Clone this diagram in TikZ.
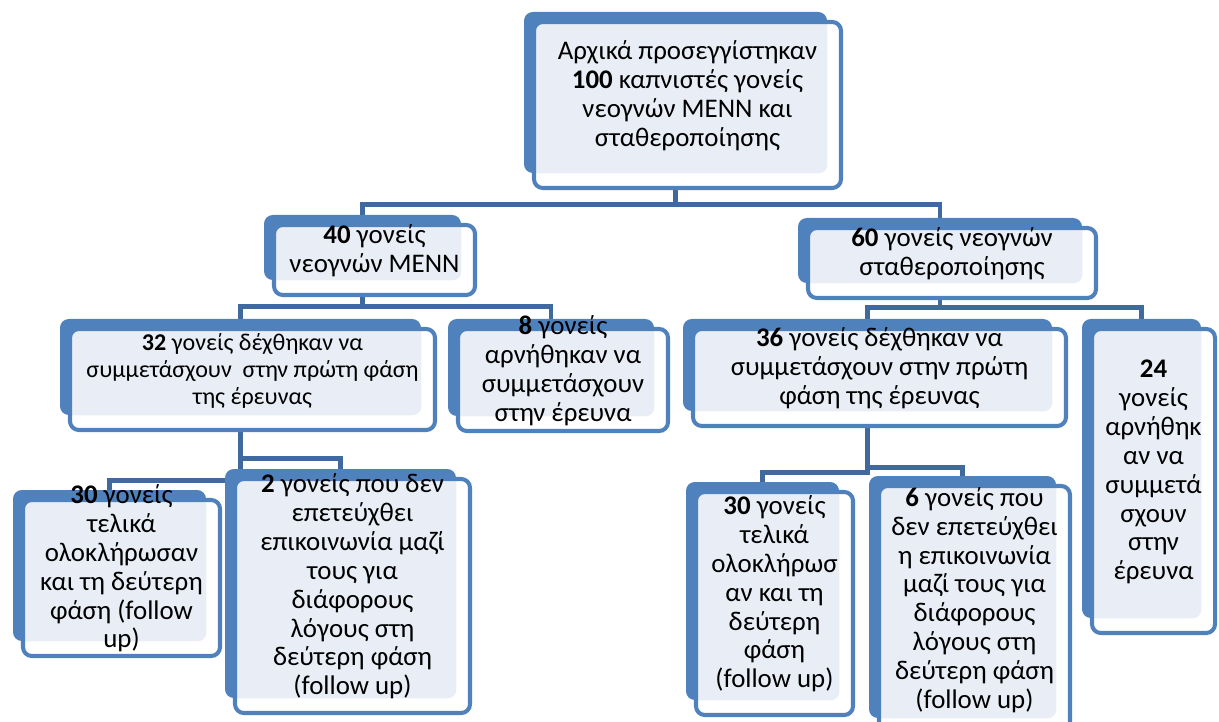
\documentclass[tikz,border=0pt]{standalone}
\usepackage{fontspec}
\setmainfont{Carlito}
\usetikzlibrary{fit,backgrounds}

\definecolor{famblue}{RGB}{79,129,189}
\definecolor{famlight}{RGB}{233,238,246}
\definecolor{famline}{RGB}{64,106,158}

\tikzset{
  backbox/.style={fill=famblue, rounded corners=5pt, inner sep=0pt},
  frontbox/.style={draw=famblue, line width=2.3pt, fill=white, rounded corners=5pt,
    inner sep=0pt, align=center, font=\fontsize{15.3}{16.4}\selectfont},
  link/.style={draw=famline, line width=2.6pt},
}

% back box + front box with text: [style] name, left, top, right, bottom (px), text
\newcommand{\famnode}[7][]{%
  \node[backbox, fit={(#3-8,#4-8) (#5-16,#6-17)}] (#2b) {};
  \node[frontbox, #1, fit={(#3+2,#4+2) (#5-2,#6-2)},
    path picture={\fill[famlight, rounded corners=5pt] (#2b.north west) rectangle (#2b.south east);}]
    (#2) {#7};
}

\begin{document}
\begin{tikzpicture}[x=0.02cm, y=-0.02cm]
  \useasboundingbox (0,0) rectangle (1219,722);

  % Level 0
  \famnode{start}{532}{20}{843}{190}{Αρχικά προσεγγίστηκαν\\\textbf{100} καπνιστές γονείς\\νεογνών ΜΕΝΝ και\\σταθεροποίησης}

  % Level 1
  \famnode{menn}{272}{223}{477}{297}{\textbf{40} γονείς\\νεογνών ΜΕΝΝ}
  \famnode{stab}{806}{226}{1098}{300}{\textbf{60} γονείς νεογνών\\σταθεροποίησης}

  % Level 2
  \famnode[font=\fontsize{13.7}{15.3}\selectfont]{mennyes}{68}{327}{437}{432}{\textbf{32} γονείς δέχθηκαν να\\συμμετάσχουν\ \ στην πρώτη φάση\\της έρευνας}
  \famnode{mennno}{456}{327}{670}{433}{\textbf{8} γονείς\\αρνήθηκαν να\\συμμετάσχουν\\στην έρευνα}
  \famnode{stabyes}{691}{327}{1068}{428}{\textbf{36} γονείς δέχθηκαν να\\συμμετάσχουν στην πρώτη\\φάση της έρευνας}
  \famnode{stabno}{1090}{327}{1217}{635}{\textbf{24}\\γονείς\\αρνήθηκ\\αν να\\συμμετά\\σχουν\\στην\\έρευνα}

  % Level 3
  \famnode{mennfu}{21}{498}{222}{658}{\textbf{30} γονείς\\τελικά\\ολοκλήρωσαν\\και τη δεύτερη\\φάση (follow\\up)}
  \famnode{mennlost}{233}{477}{472}{715}{\textbf{2} γονείς που δεν\\επετεύχθει\\επικοινωνία μαζί\\τους για\\διάφορους\\λόγους στη\\δεύτερη φάση\\(follow up)}
  \famnode{stabfu}{694}{490}{855}{717}{\textbf{30} γονείς\\τελικά\\ολοκλήρωσ\\αν και τη\\δεύτερη\\φάση\\(follow up)}
  \famnode{stablost}{877}{484}{1072}{735}{\textbf{6} γονείς που\\δεν επετεύχθει\\η επικοινωνία\\μαζί τους για\\διάφορους\\λόγους στη\\δεύτερη φάση\\(follow up)}

  % Connectors (behind the boxes)
  \begin{pgfonlayer}{background}
    \draw[link] (startb.south) -- ++(0,31) -| (mennb.north);
    \draw[link] (startb.south) -- ++(0,31) -| (stabb.north);
    \draw[link] (mennb.south) -- ++(0,26) -| (mennyesb.north);
    \draw[link] (mennb.south) -- ++(0,26) -| (mennnob.north);
    \draw[link] (stabb.south) -- ++(0,24) -| (stabyesb.north);
    \draw[link] (stabb.south) -- ++(0,24) -| (stabnob.north);
    \draw[link] (mennyesb.south) -- ++(0,43) -| (mennlostb.north);
    \draw[link] (mennyesb.south) -- ++(0,65) -| (mennfub.north);
    \draw[link] (stabyesb.south) -- ++(0,56) -| (stablostb.north);
    \draw[link] (stabyesb.south) -- ++(0,61) -| (stabfub.north);
  \end{pgfonlayer}
\end{tikzpicture}
\end{document}
